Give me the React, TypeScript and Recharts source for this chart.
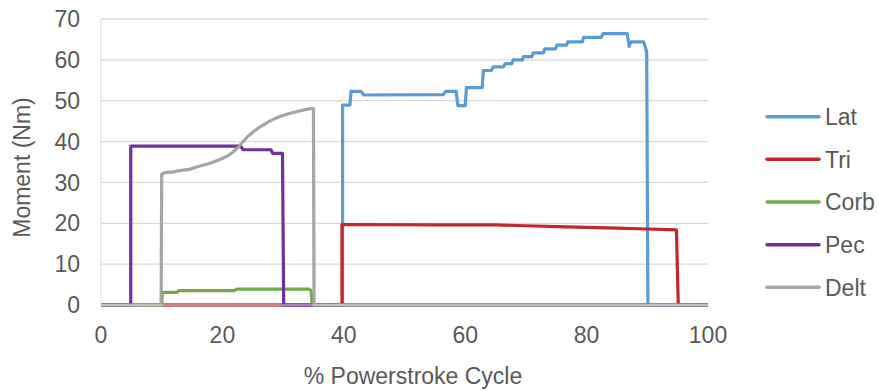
import React from 'react';
import { LineChart, Line, XAxis, YAxis, CartesianGrid, Label } from 'recharts';

const seriesNames = ['Lat', 'Tri', 'Corb', 'Pec', 'Delt'];
const seriesColors = ['#5B9BD5', '#C1272D', '#70AD47', '#7030A0', '#A5A5A5'];

const xTicks = [0, 20, 40, 60, 80, 100];
const yTicks = [0, 10, 20, 30, 40, 50, 60, 70];

const latX = [0, 39.8, 39.8, 41.0, 41.2, 42.8, 43.3, 56.4, 56.8, 58.5, 58.8, 60.0, 60.2, 62.8, 63.0, 64.3, 64.6, 66.3, 66.6, 67.7, 67.9, 69.4, 69.6, 71.0, 71.2, 72.9, 73.1, 74.9, 75.1, 76.7, 76.9, 79.3, 79.5, 82.4, 82.7, 86.7, 87.0, 87.3, 89.4, 89.9, 90.1, 100];
const latY = [0, 0, 48.9, 48.9, 52.3, 52.3, 51.4, 51.5, 52.3, 52.3, 48.8, 48.8, 53.2, 53.2, 57.4, 57.4, 58.3, 58.3, 59.1, 59.1, 60.0, 60.0, 60.8, 60.8, 61.7, 61.7, 62.7, 62.7, 63.6, 63.6, 64.4, 64.4, 65.5, 65.5, 66.4, 66.4, 63.3, 64.4, 64.4, 62.0, 0, 0];

const triX = [0, 39.7, 39.7, 55, 65, 70, 75, 80, 85, 90, 94.8, 95.1, 100];
const triY = [0, 0, 19.7, 19.6, 19.6, 19.4, 19.2, 19.0, 18.8, 18.6, 18.4, 0, 0];

const corbX = [0, 10.0, 10.1, 12.5, 12.8, 22.0, 22.3, 34.3, 34.6, 34.8, 100];
const corbY = [0, 0, 3.1, 3.1, 3.5, 3.5, 3.9, 3.9, 3.5, 0, 0];

const pecX = [0, 4.9, 4.9, 23.0, 23.4, 28.0, 28.3, 29.9, 30.1, 100];
const pecY = [0, 0, 38.9, 38.9, 38.0, 38.0, 37.1, 37.1, 0, 0];

const deltX = [0, 9.9, 10.0, 10.5, 12.0, 13.0, 14.5, 16.3, 18.0, 19.6, 21.0, 21.8, 22.6, 23.4, 24.2, 25.1, 26.0, 26.7, 27.8, 28.9, 30.0, 31.1, 32.2, 33.3, 34.7, 35.0, 35.1, 100];
const deltY = [0, 0, 32.0, 32.4, 32.6, 32.9, 33.2, 34.0, 34.7, 35.6, 36.6, 37.5, 38.6, 40.0, 41.3, 42.4, 43.4, 44.0, 45.0, 45.8, 46.4, 46.9, 47.3, 47.7, 48.1, 48.1, 0, 0];

const seriesX = [latX, triX, corbX, pecX, deltX];
const seriesY = [latY, triY, corbY, pecY, deltY];

const build = (xs: number[], ys: number[]) => xs.map((x, i) => ({ x, y: ys[i] }));

const FONT = '"Liberation Sans", Arial, sans-serif';
const TEXT = '#595959';

export default function App() {
  return (
    <div style={{ position: 'absolute', left: 0, top: 0, width: 879, height: 391, background: '#fff', fontFamily: FONT }}>
      <LineChart width={879} height={391} margin={{ top: 19, right: 171, bottom: 0, left: 0 }}>
        <CartesianGrid horizontal vertical={false} stroke="#D9D9D9" strokeWidth={1.3} />
        <XAxis
          type="number"
          dataKey="x"
          domain={[0, 100]}
          ticks={xTicks}
          height={86}
          tickLine={false}
          tickSize={0}
          tickMargin={22}
          axisLine={{ stroke: '#D9D9D9' }}
          tick={{ fill: TEXT, fontSize: 23, fontFamily: FONT }}
          allowDuplicatedCategory={false}
        >
          <Label
            content={() => (
              <text x={413} y={384} textAnchor="middle" fill={TEXT} fontSize={23} fontFamily={FONT}>
                % Powerstroke Cycle
              </text>
            )}
          />
        </XAxis>
        <YAxis
          type="number"
          domain={[0, 70]}
          ticks={yTicks}
          width={101}
          tickLine={false}
          tickSize={0}
          tickMargin={21}
          axisLine={{ stroke: '#D9D9D9' }}
          tick={{ fill: TEXT, fontSize: 23, fontFamily: FONT }}
        >
          <Label
            content={() => (
              <text
                x={30}
                y={167.5}
                textAnchor="middle"
                transform="rotate(-90, 30, 167.5)"
                fill={TEXT}
                fontSize={23}
                fontFamily={FONT}
              >
                Moment (Nm)
              </text>
            )}
          />
        </YAxis>
        {seriesNames.map((name, i) => (
          <Line
            key={name}
            name={name}
            data={build(seriesX[i], seriesY[i])}
            dataKey="y"
            type="linear"
            stroke={seriesColors[i]}
            strokeWidth={3.2}
            strokeLinejoin="round"
            dot={false}
            activeDot={false}
            isAnimationActive={false}
          />
        ))}
      </LineChart>
      <svg width={879} height={391} style={{ position: 'absolute', left: 0, top: 0, pointerEvents: 'none' }}>
        {seriesNames.map((name, i) => {
          const cy = 116.7 + i * 42.65;
          return (
            <g key={name}>
              <line x1={767} x2={819} y1={cy} y2={cy} stroke={seriesColors[i]} strokeWidth={3.5} strokeLinecap="round" />
              <text x={825} y={cy + 8.2} fill={TEXT} fontSize={23} fontFamily={FONT}>
                {name}
              </text>
            </g>
          );
        })}
      </svg>
    </div>
  );
}
